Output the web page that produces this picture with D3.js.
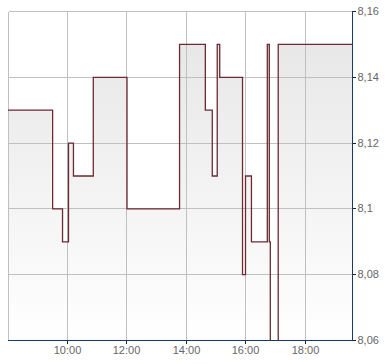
<!DOCTYPE html>
<html>
<head>
<meta charset="utf-8">
<script src="https://cdn.jsdelivr.net/npm/d3@7"></script>
<style>
  html, body { margin: 0; padding: 0; background: #fff; }
  svg { display: block; }
  text { font-family: "Liberation Sans", Arial, sans-serif; font-size: 11px; fill: #666; }
</style>
</head>
<body>
<script>
// ---- data ----
const times = ["08:00","09:30","09:50","10:02","10:12","10:52","12:00","13:46","14:38","14:52",
               "15:02","15:07","15:53","15:59","16:11","16:43","16:47","16:49","17:05","19:35"];
const prices = [8.13, 8.10, 8.09, 8.12, 8.11, 8.14, 8.10, 8.15, 8.13, 8.11,
                8.15, 8.14, 8.08, 8.11, 8.09, 8.15, 8.09, 8.05, 8.15, 8.15];
const xTickLabels = ["10:00","12:00","14:00","16:00","18:00"];
const yTickValues = [8.06, 8.08, 8.10, 8.12, 8.14, 8.16];
const xDomain = ["08:00", "19:35"];
const yDomain = [8.06, 8.16];

// ---- setup ----
const W = 390, H = 364;
const parse = s => { const [h, m] = s.split(":").map(Number); return new Date(2020, 0, 1, h, m); };
const data = times.map((t, i) => ({ t: parse(t), v: prices[i] }));

const pLeft = 8, pRight = 352.6, pTop = 11.5, pBottom = 340.5;
const x = d3.scaleTime().domain(xDomain.map(parse)).range([pLeft, pRight]);
const y = d3.scaleLinear().domain(yDomain).range([pBottom, pTop]);
const px = v => Math.floor(v) + 0.5;

const svg = d3.select("body").append("svg").attr("width", W).attr("height", H);
const defs = svg.append("defs");
const grad = defs.append("linearGradient").attr("id", "fillGrad")
  .attr("gradientUnits", "userSpaceOnUse").attr("x1", 0).attr("x2", 0).attr("y1", pTop).attr("y2", pBottom);
grad.append("stop").attr("offset", "0%").attr("stop-color", "#e5e5e5");
grad.append("stop").attr("offset", "100%").attr("stop-color", "#ffffff");
defs.append("clipPath").attr("id", "plotClip").append("rect")
  .attr("x", pLeft).attr("y", pTop - 0.5).attr("width", pRight - pLeft).attr("height", pBottom - pTop + 0.5);

// area
const area = d3.area().x(d => x(d.t)).y0(pBottom).y1(d => y(d.v)).curve(d3.curveStepAfter);
svg.append("path").datum(data).attr("d", area).attr("fill", "url(#fillGrad)").attr("clip-path", "url(#plotClip)");

// grid
const g = svg.append("g").attr("stroke", "#c0c0c0").attr("stroke-width", 1).attr("shape-rendering", "crispEdges");
xTickLabels.forEach(l => {
  const xx = px(x(parse(l)));
  g.append("line").attr("x1", xx).attr("x2", xx).attr("y1", pTop).attr("y2", pBottom);
});
yTickValues.forEach(v => {
  const yy = px(y(v));
  g.append("line").attr("x1", pLeft + 0.5).attr("x2", px(pRight)).attr("y1", yy).attr("y2", yy);
});
g.append("line").attr("x1", pLeft + 0.5).attr("x2", pLeft + 0.5).attr("y1", pTop).attr("y2", pBottom);

// line
const line = d3.line().x(d => x(d.t)).y(d => y(d.v)).curve(d3.curveStepAfter);
svg.append("path").datum(data).attr("d", line).attr("fill", "none")
  .attr("stroke", "#6b2a31").attr("stroke-width", 1.3).attr("clip-path", "url(#plotClip)");

// right axis
const axisColor = "#1b3766";
const yAxis = d3.axisRight(y).tickValues(yTickValues).tickSize(3).tickPadding(2)
  .tickFormat(d => d3.format(".2~f")(d).replace(".", ","));
const ya = svg.append("g").attr("transform", `translate(${px(pRight)},0)`).call(yAxis);
ya.select(".domain").attr("stroke", axisColor).attr("d", `M0,${pTop - 0.5}V${pBottom}`);
ya.selectAll(".tick line").attr("stroke", "#222");
ya.selectAll(".tick").attr("transform", d => `translate(0,${px(y(d))})`);
ya.selectAll("text").style("font-family", '"Liberation Sans", Arial, sans-serif').style("font-size", "11px").attr("fill", "#666");

// bottom axis
const xAxis = d3.axisBottom(x).tickValues(xTickLabels.map(parse)).tickSize(3).tickPadding(3)
  .tickFormat(d3.timeFormat("%H:%M"));
const xa = svg.append("g").attr("transform", `translate(0,${pBottom})`).call(xAxis);
xa.select(".domain").attr("stroke", axisColor).attr("d", `M${pLeft},0H${px(pRight)}`);
xa.selectAll(".tick line").attr("stroke", "#222");
xa.selectAll(".tick").attr("transform", d => `translate(${px(x(d))},0)`);
xa.selectAll("text").style("font-family", '"Liberation Sans", Arial, sans-serif').style("font-size", "11px").attr("fill", "#666");
svg.selectAll(".domain, .tick line").attr("shape-rendering", "crispEdges");
</script>
</body>
</html>
